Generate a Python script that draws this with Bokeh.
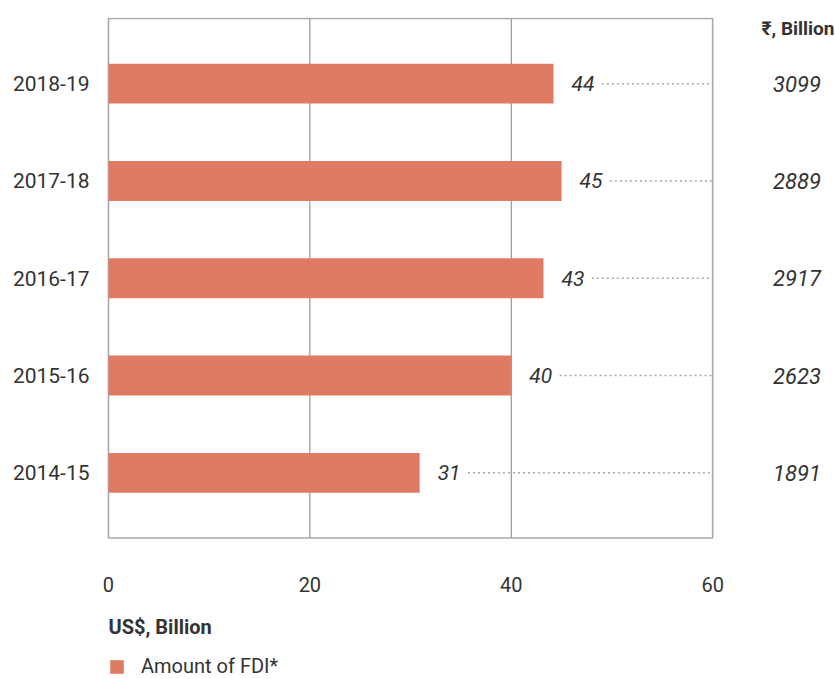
from bokeh.plotting import figure
from bokeh.models import (Range1d, FixedTicker, LabelSet,
                          ColumnDataSource, Legend, LegendItem)
from bokeh.core.properties import value
from bokeh.embed import file_html
from bokeh.resources import INLINE

# ---- data ----
years = ["2014-15", "2015-16", "2016-17", "2017-18", "2018-19"]
fdi_usd_bn = [30.9, 40.0, 43.2, 45.0, 44.2]
fdi_inr_bn = ["1891", "2623", "2917", "2889", "3099"]
x_ticks = [0, 20, 40, 60]

FONT_CSS = "Roboto"
FONT = value(FONT_CSS)
TXT = "#333333"
BAR = "#E07B63"
BORDER = "#a8a8a8"

pos = list(range(len(years)))
x_max = x_ticks[-1]
y_lo, y_hi = -0.67, len(years) - 1 + 0.67
src = ColumnDataSource(dict(
    y=pos,
    v=fdi_usd_bn,
    lbl=[str(round(v)) for v in fdi_usd_bn],
    inr=fdi_inr_bn,
    x0=[v + 4.8 for v in fdi_usd_bn],
    x1=[x_max] * len(years),
))

p = figure(width=835, height=679, output_backend="svg", toolbar_location=None,
           x_range=Range1d(-1.09, 72.2), y_range=Range1d(-2.124, y_hi + 0.01),
           min_border_left=97, min_border_right=0,
           min_border_top=17, min_border_bottom=0)

p.outline_line_color = None
p.background_fill_color = "white"
p.border_fill_color = "white"
p.grid.visible = False

# inner grid lines (20, 40) limited to the plot box
grid_x = x_ticks[1:-1]
p.segment(x0=grid_x, x1=grid_x, y0=[y_lo] * len(grid_x), y1=[y_hi] * len(grid_x),
          line_color="#808080", line_width=1)

# plot box (0..60)
p.quad(left=[0], right=[x_max], bottom=[y_lo], top=[y_hi],
       fill_color=None, line_color=BORDER, line_width=1.6)

# bars
bars = p.hbar(y="y", right="v", left=0, height=0.41, source=src,
              fill_color=BAR, line_color=None)

# dotted leaders
p.segment(x0="x0", x1="x1", y0="y", y1="y", source=src,
          line_color=BORDER, line_width=1.5, line_dash="2 3")

# bar value labels
p.add_layout(LabelSet(x="v", y="y", text="lbl", source=src, x_offset=18,
                      text_baseline="middle", text_align="left",
                      text_font=FONT, text_font_size="21px",
                      text_font_style="italic", text_color=TXT))

# rupee values column
p.text(x=66.0, y="y", text="inr", source=src, text_baseline="middle",
       text_align="left", text_font=FONT, text_font_size="22px",
       text_font_style="italic", text_color=TXT)
p.text(x=[64.85], y=[y_hi - 0.1], text=["₹, Billion"], text_baseline="middle",
       text_align="left", text_font=FONT, text_font_size="19px",
       text_font_style="bold", text_color=TXT)

# US$ unit label
p.text(x=[0], y=[y_lo - 0.915], text=["US$, Billion"], text_baseline="middle",
       text_align="left", text_font=FONT, text_font_size="20px",
       text_font_style="bold", text_color=TXT)

# axes
xa = p.xaxis[0]
xa.fixed_location = y_lo
xa.ticker = FixedTicker(ticks=x_ticks)
xa.axis_line_color = None
xa.major_tick_line_color = None
xa.minor_tick_line_color = None
xa.major_label_standoff = 33
xa.major_label_text_font = FONT_CSS
xa.major_label_text_font_size = "20px"
xa.major_label_text_color = TXT

ya = p.yaxis[0]
ya.ticker = FixedTicker(ticks=pos)
ya.major_label_overrides = {i: y for i, y in enumerate(years)}
ya.axis_line_color = None
ya.major_tick_line_color = None
ya.minor_tick_line_color = None
ya.major_label_standoff = 2
ya.major_label_text_font = FONT_CSS
ya.major_label_text_font_size = "21px"
ya.major_label_text_color = TXT

# legend
leg = Legend(items=[LegendItem(label="Amount of FDI*", renderers=[bars])],
             location=(11, 1), orientation="horizontal",
             glyph_width=17, glyph_height=17, label_standoff=16,
             label_text_font=FONT_CSS, label_text_font_size="20px",
             label_text_color=TXT, border_line_color=None,
             background_fill_alpha=0, padding=0, margin=0, spacing=0,
             label_height=17)
p.add_layout(leg, "center")

open("out.html", "w").write(file_html(p, INLINE))
